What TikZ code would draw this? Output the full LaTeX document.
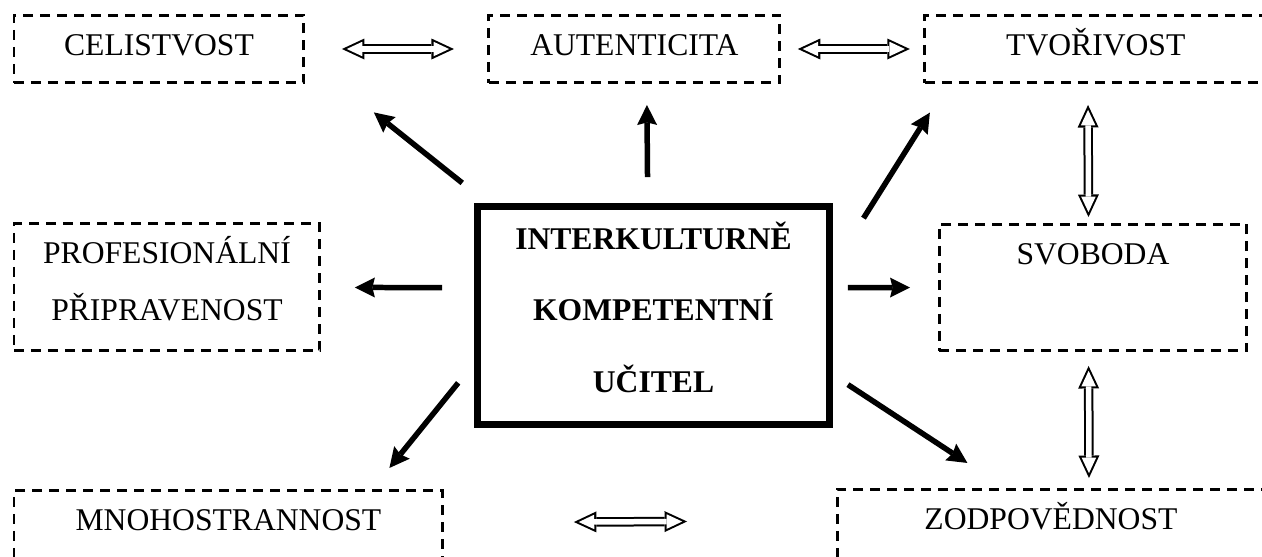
\documentclass[tikz,border=0pt]{standalone}
\usepackage{fontspec}
\setmainfont{Liberation Serif}
\usetikzlibrary{positioning}
\usetikzlibrary{arrows.meta,calc}
\tikzset{
    >={Stealth[length=0.4cm,width=0.4cm,inset=0.05cm,line width=0pt]}, % filled heads
    box/.style={draw, dash pattern=on 0.2cm off 0.14cm, line width=0.06cm,
        inner sep=0pt, outer sep=0pt, anchor=north west,
        font=\fontsize{18pt}{31.9pt}\selectfont, text height=0.8cm, text depth=0.56cm},
    tallbox/.style={box, text depth=1.74cm},
    centre/.style={draw, line width=0.14cm, inner sep=0pt, outer sep=0pt,
        font=\fontsize{18pt}{40.7pt}\selectfont\bfseries,
        minimum width=7.06cm, text height=0.86cm, text depth=3.52cm},
    link/.style={->, line width=0.11cm},
    hollow out/.style={line width=0.19cm,
        {Triangle[length=0.45cm,width=0.42cm,line width=0pt]}-{Triangle[length=0.45cm,width=0.42cm,line width=0pt]}},
    hollow in/.style={white, line width=0.11cm,
        {Triangle[length=0.31cm,width=0.29cm,line width=0pt]}-{Triangle[length=0.31cm,width=0.29cm,line width=0pt]}},
}
% open double arrow between two boxes
\newcommand{\hollowlink}[4]{%
    \draw[hollow out, shorten <=#3, shorten >=#4] (#1) -- (#2);
    \draw[hollow in, shorten <=#3+0.097cm, shorten >=#4+0.097cm] (#1) -- (#2);
}

\begin{document}
\begin{tikzpicture}[x=0.02cm, y=-0.02cm]
    \useasboundingbox (0,0) rectangle (1262,556);
    \clip (0,0) rectangle (1262,556);

    % centre
    \node[centre] (main) at (653.5,315.5)
        {\begin{tabular}[t]{@{}c@{}}INTERKULTURNĚ\\KOMPETENTNÍ\\UČITEL\end{tabular}};

    % top row
    \node[box, minimum width=5.8cm] (celist) at (14,15) {CELISTVOST};
    \node[box, minimum width=5.82cm, right=3.7cm of celist] (autent) {AUTENTICITA};
    \node[box, minimum width=6.84cm, right=2.9cm of autent] (tvor) {TVOŘIVOST};

    % middle row
    \node[tallbox, minimum width=6.12cm, below=2.82cm of celist.south west, anchor=north west] (prof)
        {\begin{tabular}[t]{@{}c@{}}PROFESIONÁLNÍ\\PŘIPRAVENOST\end{tabular}};
    \node[tallbox, minimum width=6.16cm] (svob) at (939,224) {SVOBODA};

    % bottom row
    \node[box, minimum width=8.58cm, text depth=0.62cm, below=2.8cm of prof.south west, anchor=north west] (mnoho) {MNOHOSTRANNOST};
    \node[box, minimum width=8.56cm, text depth=0.62cm] (zodp) at (837,489) {ZODPOVĚDNOST};

    % arrows out of the centre
    \draw[link, shorten <=0.74cm, shorten >=1.79cm] (main.146) -- (celist.-3);
    \draw[link, shorten <=0.58cm, shorten >=0.44cm] (main.93) -- (autent.-70);
    \draw[link, shorten <=1.26cm, shorten >=0.70cm] (main.14.5) -- (tvor.-167.4);
    \draw[link, shorten <=0.70cm, shorten >=0.70cm] (main.171) -- (prof.east);
    \draw[link, shorten <=0.36cm, shorten >=0.58cm] (main.9) -- (svob.west);
    \draw[link, shorten <=0.60cm, shorten >=0.59cm] (main.-166.8) -- (mnoho.14.3);
    \draw[link, shorten <=0.43cm, shorten >=0.95cm] (main.-18.1) -- (zodp.141.3);

    % links between the boxes
    \hollowlink{celist}{autent}{0.76cm}{0.70cm}
    \hollowlink{autent}{tvor}{0.36cm}{0.30cm}
    \hollowlink{tvor.-103}{svob.94.5}{0.44cm}{0.14cm}
    \hollowlink{svob.-94.5}{zodp.43.8}{0.30cm}{0.22cm}
    \hollowlink{mnoho.1.2}{zodp.179.3}{2.62cm}{3.00cm}
\end{tikzpicture}
\end{document}
